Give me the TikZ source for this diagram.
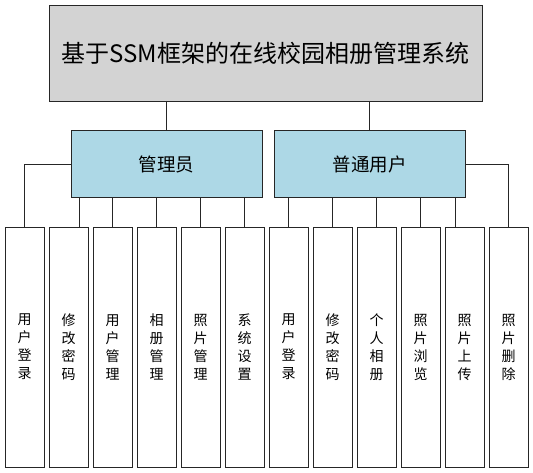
\documentclass[tikz,border=0pt]{standalone}
\usepackage{fontspec}
\usepackage{tikz}
\setmainfont{Noto Sans CJK SC}
\definecolor{topgray}{RGB}{211,211,211}
\definecolor{rolblue}{RGB}{173,216,230}

\begin{document}
\begin{tikzpicture}[x=1pt,y=-1pt,
  box/.style={draw=black!85,line width=0.9pt,inner sep=0pt,outer sep=0pt},
  sysbox/.style={box,fill=topgray,minimum width=433pt,minimum height=96pt,font=\fontsize{24}{28}\selectfont},
  rolbox/.style={box,fill=rolblue,minimum width=191pt,minimum height=67pt,font=\fontsize{18.5}{22}\selectfont},
  funbox/.style={box,fill=white,minimum width=39pt,minimum height=240pt,align=center,font=\fontsize{14}{18}\selectfont},
  link/.style={draw=black!85,line width=0.9pt}]
\useasboundingbox (0,0) rectangle (533,473);
\node[sysbox] (sys) at (265.5,53) {基于SSM框架的在线校园相册管理系统};
\node[rolbox] (adm) at (166.5,164) {管理员};
\node[rolbox] (usr) at (369.5,164) {普通用户};
% function boxes
\foreach \t [count=\i from 0] in {用\\户\\登\\录,修\\改\\密\\码,用\\户\\管\\理,相\\册\\管\\理,照\\片\\管\\理,系\\统\\设\\置,
  用\\户\\登\\录,修\\改\\密\\码,个\\人\\相\\册,照\\片\\浏\\览,照\\片\\上\\传,照\\片\\删\\除}
  \node[funbox] (f\i) at (24.5+44*\i,347) {\t};
\path[link] (sys.south -| adm.north) -- (adm.north);
\path[link] (sys.south -| usr.north) -- (usr.north);
\path[link] (adm.west) -| (f0.north);
\path[link] ([xshift=10.5pt]f1.north) -- ([xshift=10.5pt]f1.north |- adm.south);
\foreach \i in {2,3,4,5}
  \path[link] (f\i.north) -- (f\i.north |- adm.south);
\foreach \i in {6,7,8,9}
  \path[link] (f\i.north) -- (f\i.north |- usr.south);
\path[link] ([xshift=-9.5pt]f10.north) -- ([xshift=-9.5pt]f10.north |- usr.south);
\path[link] (usr.east) -| (f11.north);
\end{tikzpicture}
\end{document}
